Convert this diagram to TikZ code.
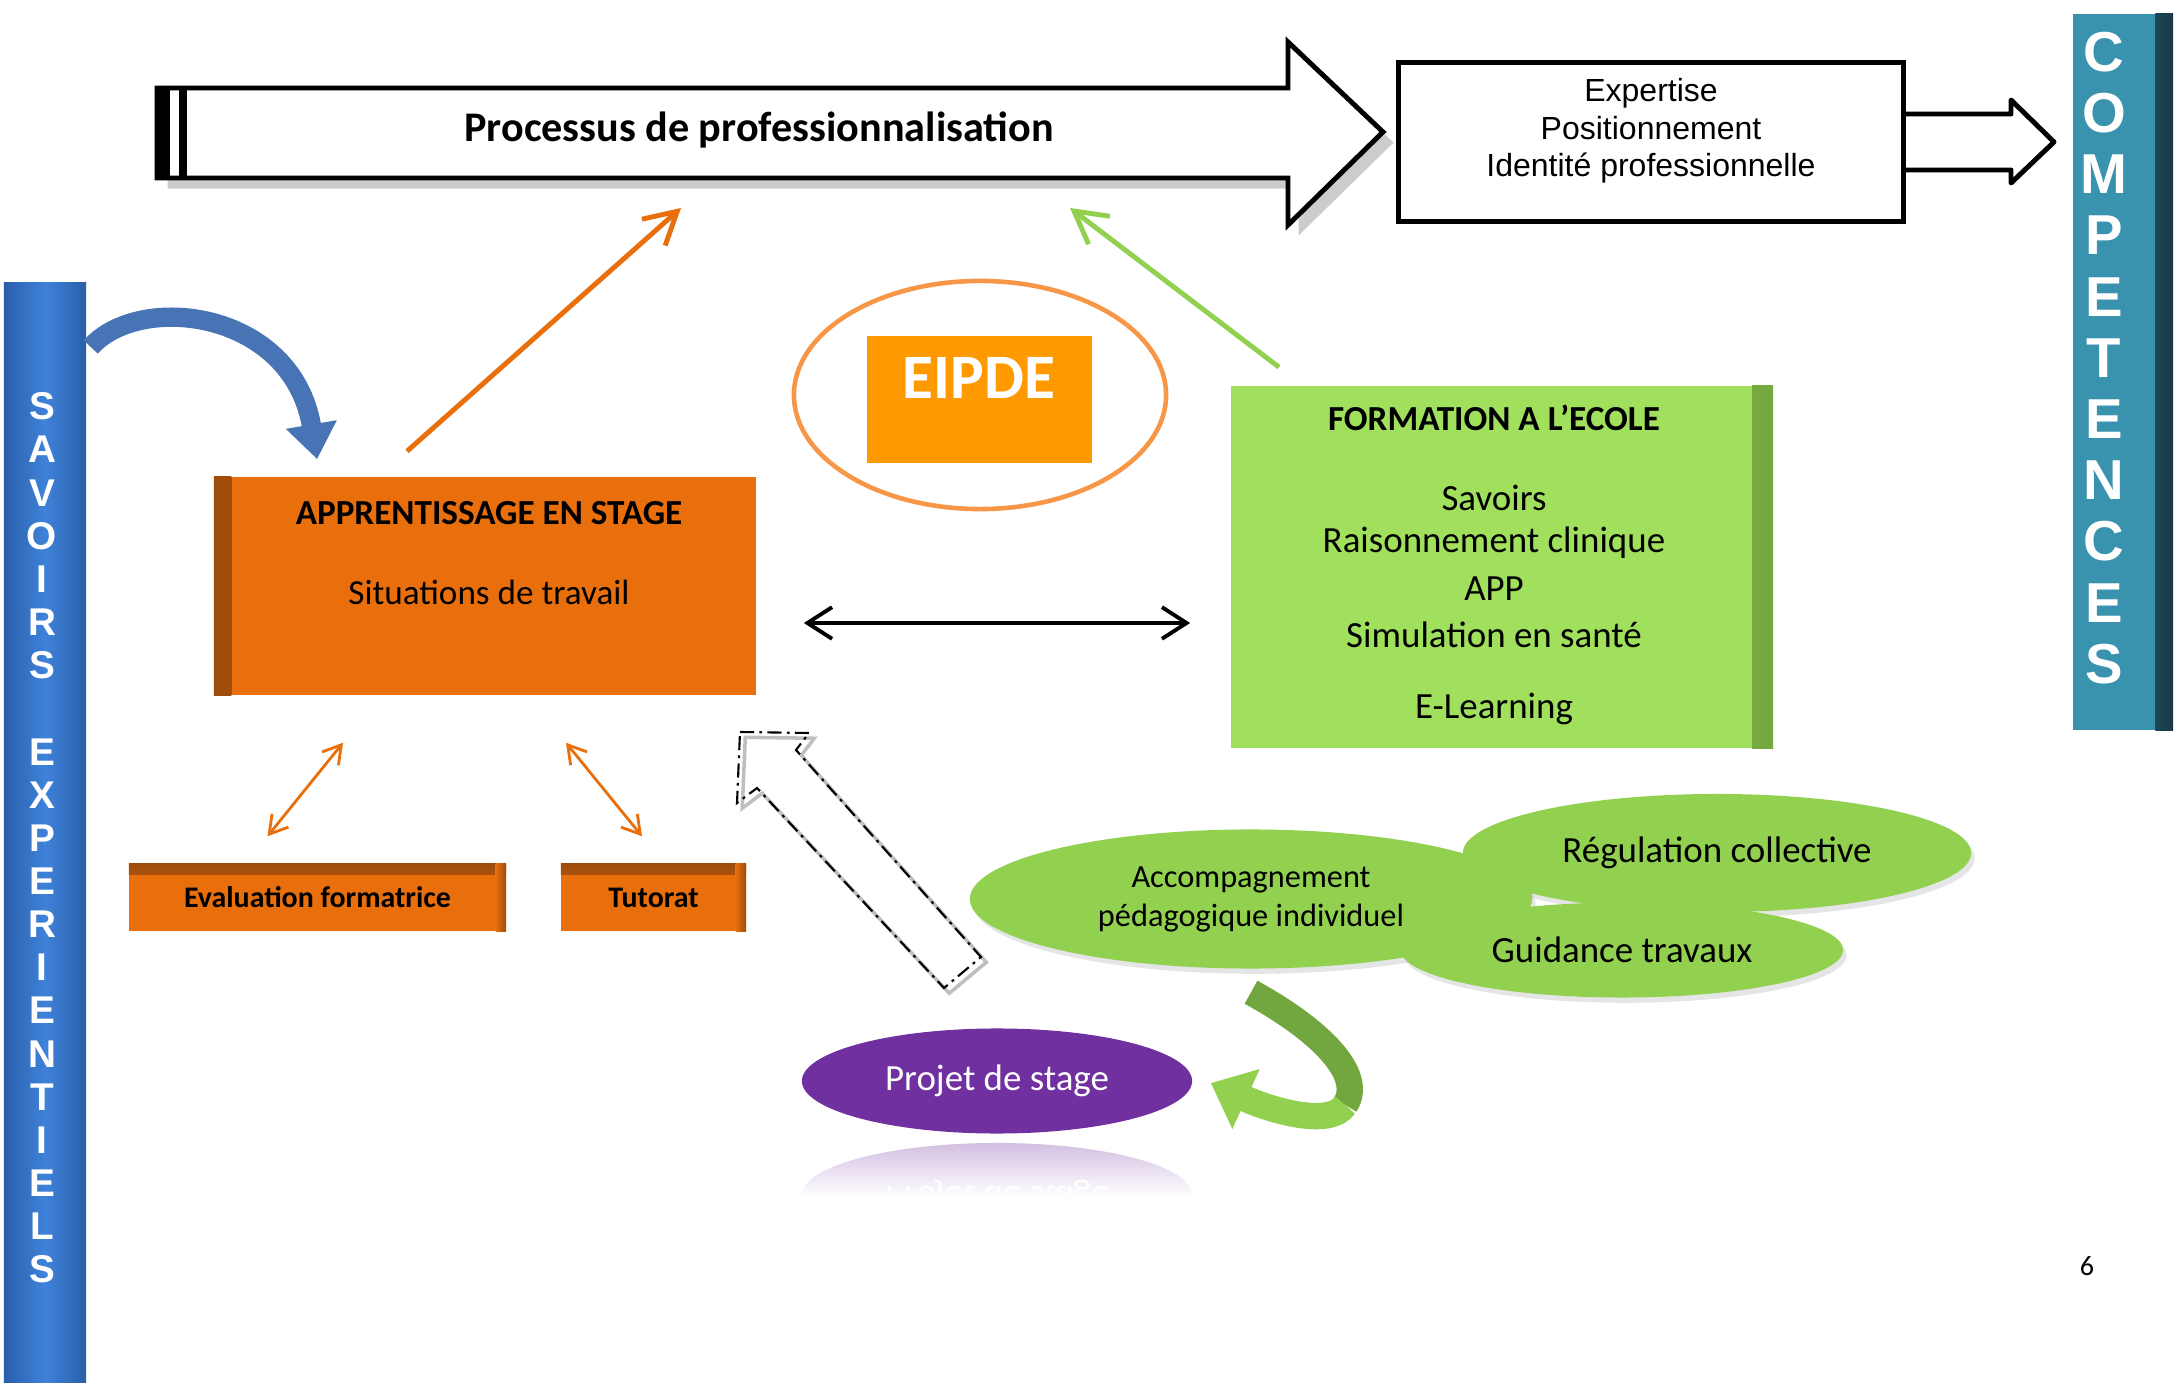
\documentclass[tikz,border=0pt]{standalone}
\usepackage{fontspec}
\setmainfont{Carlito}
\newfontfamily\arialfont{Liberation Sans}
\usetikzlibrary{shapes.geometric,arrows.meta,fadings,shadows}

\definecolor{stageorange}{HTML}{E96F0C}
\definecolor{darkorange}{HTML}{8C430A}
\definecolor{eipdeorange}{HTML}{FF9900}
\definecolor{ringorange}{HTML}{F79646}
\definecolor{schoolgreen}{HTML}{A0E05C}
\definecolor{schooldark}{HTML}{6A9A36}
\definecolor{leafgreen}{HTML}{92D050}
\definecolor{mossgreen}{HTML}{72A63E}
\definecolor{stagepurple}{HTML}{7030A0}
\definecolor{barblue}{HTML}{3F82DA}
\definecolor{barbluedark}{HTML}{2A5EA8}
\definecolor{barteal}{HTML}{3A93AE}
\definecolor{bartealdark}{HTML}{183743}
\definecolor{bendblue}{HTML}{4874B6}

\tikzfading[name=fadedown, top color=transparent!100, bottom color=transparent!0]

\begin{document}
\begin{tikzpicture}[
    x=0.01cm, y=-0.01cm,
    sidebar/.style={draw=none, inner sep=0pt},
    letters/.style={text=white, align=center, inner sep=0pt},
    orangebox/.style={
        fill=stageorange,
        inner sep=0pt,
        path picture={\shade[left color=darkorange!80!stageorange, right color=stageorange]
            (path picture bounding box.south west) rectangle
            ([xshift=5pt]path picture bounding box.north west);}
    },
    smallbox/.style={
        fill=stageorange,
        inner sep=0pt,
        minimum height=0.67cm,
        font=\bfseries\fontsize{8.5}{10}\selectfont,
        path picture={
            \shade[top color=darkorange!80!stageorange, bottom color=stageorange]
                (path picture bounding box.north west) rectangle
                ([yshift=-3pt]path picture bounding box.north east);
            \shade[left color=stageorange, right color=darkorange!80!stageorange]
                ([xshift=-3pt]path picture bounding box.south east) rectangle
                (path picture bounding box.north east);}
    },
    greenbox/.style={
        fill=schoolgreen,
        inner sep=0pt,
        path picture={\shade[left color=schoolgreen, right color=schooldark!80!schoolgreen]
            ([xshift=-6pt]path picture bounding box.south east) rectangle
            (path picture bounding box.north east);}
    },
    leaf/.style={
        ellipse,
        fill=leafgreen,
        inner sep=0pt,
        drop shadow={opacity=0.2, shadow xshift=1pt, shadow yshift=-1.5pt}
    },
    boxtitle/.style={font=\bfseries\fontsize{10}{12}\selectfont},
    boxtext/.style={font=\fontsize{10.5}{13}\selectfont},
    bigline/.style={line width=1.4pt},
    uparrow/.style={line width=1.4pt, -{Straight Barb[length=9pt,width=10pt]}},
    twoway/.style={line width=1.1pt,
        {Straight Barb[length=7pt,width=9pt]}-{Straight Barb[length=7pt,width=9pt]}},
    smalltwoway/.style={draw=stageorange, line width=0.8pt,
        {Straight Barb[length=5pt,width=6pt]}-{Straight Barb[length=5pt,width=6pt]}}
]

\useasboundingbox (0,0) rectangle (2179,1383);
\fill[white] (0,0) rectangle (2179,1383);

% Side bars
\node[sidebar, minimum width=0.82cm, minimum height=11cm,
      left color=barbluedark, right color=barbluedark, middle color=barblue]
      (savoirs) at (45,833) {};
\node[letters, font=\arialfont\bfseries\fontsize{11}{12.27}\selectfont] (savoirsText) at (42,838)
      {S\\A\\V\\O\\I\\R\\S\\[12.27pt]E\\X\\P\\E\\R\\I\\E\\N\\T\\I\\E\\L\\S};

\node[sidebar, minimum width=1cm, minimum height=7.16cm, fill=barteal,
      path picture={\shade[left color=barteal, right color=bartealdark]
          ([xshift=-5pt]path picture bounding box.south east) rectangle
          (path picture bounding box.north east);}]
      (competences) at (2123,372) {};
\node[letters, font=\arialfont\bfseries\fontsize{16}{17.4}\selectfont] (competencesText) at (2104,358)
      {C\\O\\M\\P\\E\\T\\E\\N\\C\\E\\S};

% Top row
\fill[black, opacity=0.2, xshift=3pt, yshift=-3pt]
    (157,88) -- (1288,88) -- (1288,42) -- (1383,132) -- (1288,225) -- (1288,178) -- (157,178) -- cycle;
\draw[bigline, fill=white]
    (157,88) -- (1288,88) -- (1288,42) -- (1383,132) -- (1288,225) -- (1288,178) -- (157,178) -- cycle;
\fill (157,88) rectangle (170,178);
\draw[line width=2.3pt] (183,88) -- (183,178);
\node[font=\bfseries\fontsize{12}{14}\selectfont] (process) at (759,130) {Processus de professionnalisation};

\draw[bigline, fill=white, line join=round]
    (1890,114) -- (2011,114) -- (2011,100) -- (2054,142) -- (2011,183) -- (2011,170) -- (1890,170);
\node[draw, bigline, fill=white, minimum width=5.05cm, minimum height=1.59cm] (expertise) at (1651,142) {};
\node[align=center, font=\arialfont\fontsize{9.1}{10.6}\selectfont] (expertiseText) at (1651,131)
      {Expertise\\Positionnement\\Identité professionnelle};

% Middle row
\node[ellipse, draw=ringorange, line width=1.3pt, minimum width=3.72cm, minimum height=2.28cm] (eipde) at (980,395) {};
\node[fill=eipdeorange, minimum width=2.25cm, minimum height=1.27cm] (eipdeBox) at (979.5,399.5) {};
\node[text=white, font=\bfseries\fontsize{18}{21}\selectfont] (eipdeText) at (979,378) {EIPDE};

\node[orangebox, minimum width=5.42cm, minimum height=2.18cm] (stage) at (485,586) {};
\node[boxtitle] (stageTitle) at (489,513) {APPRENTISSAGE EN STAGE};
\node[boxtext, font=\fontsize{10}{12}\selectfont] (stageText) at (489,592) {Situations de travail};

\node[greenbox, minimum width=5.42cm, minimum height=3.62cm] (formation) at (1502,567) {};
\node[boxtitle] (formationTitle) at (1494,418) {FORMATION A L’ECOLE};
\node[boxtext] (savoirsItem) at (1494,498) {Savoirs};
\node[boxtext] (raisonItem) at (1494,543) {Raisonnement clinique};
\node[boxtext] (appItem) at (1494,589) {APP};
\node[boxtext] (simulItem) at (1494,635) {Simulation en santé};
\node[boxtext] (elearnItem) at (1494,709) {E-Learning};

% Bottom row
\node[smallbox, minimum width=3.77cm] (eval) at (317.5,897.5) {Evaluation formatrice};
\node[smallbox, minimum width=1.85cm] (tutorat) at (653.5,897.5) {Tutorat};

\node[leaf, minimum width=5.08cm, minimum height=1.18cm, font=\fontsize{10.5}{13}\selectfont]
      (regul) at (1717,853) {Régulation collective};
\node[leaf, minimum width=5.62cm, minimum height=1.39cm, align=center, font=\fontsize{9.2}{11.1}\selectfont]
      (accomp) at (1251,899) {Accompagnement\\pédagogique individuel};
\node[leaf, minimum width=4.42cm, minimum height=0.95cm, font=\fontsize{10.5}{13}\selectfont]
      (guid) at (1622,950) {Guidance travaux};

\node[ellipse, fill=stagepurple, text=white, inner sep=0pt, minimum width=3.9cm, minimum height=1.05cm,
      font=\fontsize{10.5}{13}\selectfont] (projet) at (997,1081) {Projet de stage};
\begin{scope}
    \clip (790,1138) rectangle (1205,1195);
    \fill[stagepurple!35] (997,1195) ellipse [x radius=1.95cm, y radius=0.52cm];
    \node[text=white, font=\fontsize{10.5}{13}\selectfont] (projetMirror) at (997,1196)
          {\scalebox{1}[-1]{Projet de stage}};
\end{scope}
\fill[white, path fading=fadedown] (790,1136) rectangle (1205,1196);

% Connectors
\coordinate (procLeft) at (681,208);
\coordinate (procRight) at (1070,208);
\draw[uparrow, draw=stageorange] ([shift={(-78,-25)}]stage.north) -- (procLeft);
\draw[uparrow, draw=leafgreen] ([shift={(-223,-18)}]formation.north) -- (procRight);

\draw[twoway] ([shift={(47,37)}]stage.east) -- ([shift={(-40,56)}]formation.west);

\draw[smalltwoway] ([shift={(-142,47)}]stage.south) -- ([shift={(-50,-27)}]eval.north);
\draw[smalltwoway] ([shift={(81,47)}]stage.south) -- ([shift={(-11.5,-27)}]tutorat.north);

\draw[line width=5.5pt, draw=bendblue, -{Triangle[length=10pt,width=14pt]}]
    ([shift={(4,65)}]savoirs.north east) .. controls (140,292) and (292,310) .. ([shift={(104,-17)}]stage.north west);

\draw[line width=7.5pt, draw=mossgreen]
    ([shift={(0,23)}]accomp.south) .. controls (1320,1030) and (1365,1075) .. (1345,1105);
\draw[line width=7.5pt, draw=leafgreen, -{Triangle[length=11pt,width=18pt]}]
    (1345,1105) .. controls (1330,1128) and (1270,1110) .. ([shift={(18,2)}]projet.east);

% Dashed hint arrow
\draw[black!25, line width=1pt, xshift=1.5pt, yshift=-1.5pt]
    (740,732) -- (809,733) -- (796,750) -- (981,957) -- (944,988) -- (757,788) -- (737,803) -- cycle;
\draw[line width=0.6pt, dash pattern=on 4pt off 1.5pt on 0.8pt off 1.5pt]
    (740,732) -- (809,733) -- (796,750) -- (981,957) -- (944,988) -- (757,788) -- (737,803) -- cycle;

\node[font=\fontsize{8}{10}\selectfont] (pageNum) at (2087,1266) {6};

\end{tikzpicture}
\end{document}
